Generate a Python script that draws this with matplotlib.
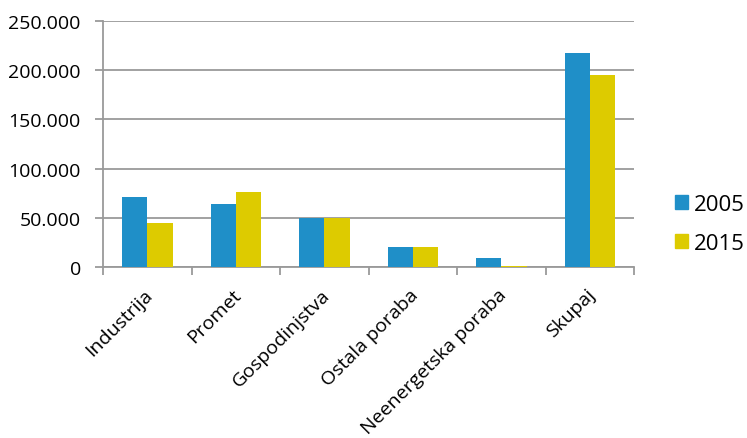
import matplotlib
matplotlib.use("Agg")
import matplotlib.pyplot as plt
import matplotlib.transforms as mtransforms
import numpy as np
from matplotlib.patches import Patch

categories = ["Industrija", "Promet", "Gospodinjstva", "Ostala poraba",
              "Neenergetska poraba", "Skupaj"]
series_names = ["2005", "2015"]
values_2005 = [71500, 64000, 49800, 20200, 8800, 217500]
values_2015 = [44800, 76600, 50000, 20200, 1000, 195400]
yticks = [0, 50000, 100000, 150000, 200000, 250000]
ytick_labels = ["0", "50.000", "100.000", "150.000", "200.000", "250.000"]

colors = ["#1F8FC8", "#DDCB00"]
grid_c = "#9a9a9a"

plt.rcParams['font.family'] = ['Open Sans', 'DejaVu Sans']
fig = plt.figure(figsize=(7.47, 4.39), dpi=100)
ax = fig.add_axes([0.138, 0.3895, 0.711, 0.5605])

x = np.arange(len(categories))
w = 0.285
ax.bar(x - w / 2, values_2005, width=w, color=colors[0], zorder=3)
ax.bar(x + w / 2, values_2015, width=w, color=colors[1], zorder=3)

ax.set_xlim(-0.5, len(categories) - 0.5)
ax.set_ylim(0, 250000)
ax.set_yticks(yticks)
ax.set_yticklabels(ytick_labels, fontsize=14)
ax.yaxis.grid(True, color=grid_c, linewidth=1.3, zorder=0)
ax.set_axisbelow(True)

ax.set_xticks(x)
ax.set_xticklabels(categories, rotation=45, ha="right", rotation_mode="anchor",
                   fontsize=14)
ax.tick_params(axis="x", length=0, pad=13)
offset = mtransforms.ScaledTranslation(-4 / 100, 0, fig.dpi_scale_trans)
for lab in ax.get_xticklabels():
    lab.set_transform(lab.get_transform() + offset)
ax.set_xticks(np.arange(-0.5, len(categories), 1.0), minor=True)
ax.tick_params(axis="x", which="minor", length=6, color=grid_c, width=1.3)
ax.tick_params(axis="y", length=6, color=grid_c, width=1.3, pad=10)

for s in ["top", "right"]:
    ax.spines[s].set_visible(False)
for s in ["left", "bottom"]:
    ax.spines[s].set_color(grid_c)
    ax.spines[s].set_linewidth(1.3)

handles = [Patch(color=c) for c in colors]
fig.legend(handles, series_names, loc="center left", bbox_to_anchor=(0.9036, 0.4875),
           frameon=False, fontsize=16, handlelength=0.6, handleheight=0.6,
           handletextpad=0.25, labelspacing=0.8, borderpad=0, borderaxespad=0)

fig.savefig("out.png", dpi=100)
